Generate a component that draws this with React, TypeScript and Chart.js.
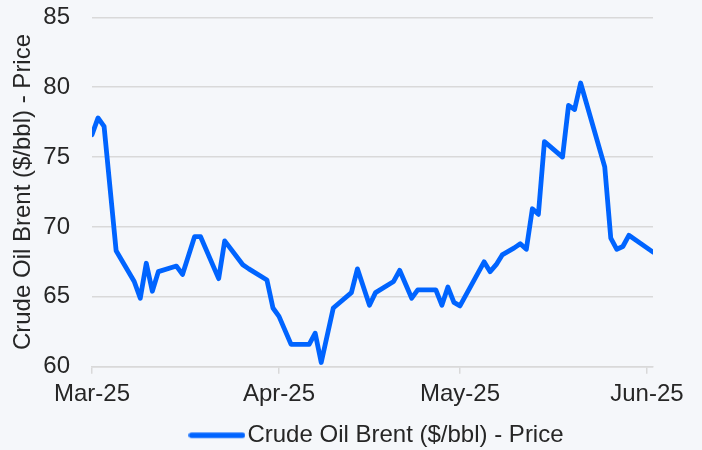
import React, { useEffect, useRef } from "react";
import { Chart, registerables } from "chart.js";

Chart.register(...registerables);

// Days counted from 1 Mar 2025
const dayIndex = [
  0, 1, 2, 4, 7, 8, 9, 10, 11, 14, 15, 17, 18, 21, 22, 25, 26, 29, 30, 31,
  33, 36, 37, 38, 40, 43, 44, 46, 47, 50, 51, 53, 54, 57, 58, 59, 60, 61,
  65, 66, 67, 68, 70, 71, 72, 73, 74, 75, 78, 79, 80, 81, 85, 86, 87, 88, 89, 93,
];
const brentPrice = [
  76.6, 77.8, 77.2, 68.3, 66.1, 64.9, 67.4, 65.4, 66.8, 67.2, 66.6, 69.3, 69.3,
  66.3, 69.0, 67.3, 67.0, 66.2, 64.2, 63.6, 61.6, 61.6, 62.4, 60.3, 64.2, 65.3,
  67.0, 64.4, 65.3, 66.1, 66.9, 64.9, 65.5, 65.5, 64.4, 65.7, 64.6, 64.35,
  67.5, 66.8, 67.3, 68.0, 68.5, 68.8, 68.4, 71.3, 70.9, 76.1, 75.0, 78.7,
  78.4, 80.3, 74.3, 69.2, 68.4, 68.6, 69.4, 68.2,
];
const monthTickDays = [0, 31, 61, 92];
const monthTickLabels = ["Mar-25", "Apr-25", "May-25", "Jun-25"];
const seriesName = "Crude Oil Brent ($/bbl) - Price";
const yAxisTitle = "Crude Oil Brent ($/bbl) - Price";

const BLUE = "#0064ff";
const GRID = "#d9d9d9";
const TEXT = "#262626";
const FONT = "'Liberation Sans', Arial, Helvetica, sans-serif";

function makeLegendLine(): HTMLCanvasElement {
  const c = document.createElement("canvas");
  c.width = 57;
  c.height = 8;
  const ctx = c.getContext("2d")!;
  ctx.strokeStyle = BLUE;
  ctx.lineWidth = 5.5;
  ctx.lineCap = "round";
  ctx.beginPath();
  ctx.moveTo(3, 4);
  ctx.lineTo(54, 4);
  ctx.stroke();
  return c;
}

const legendShift = {
  id: "legendShift",
  afterLayout(chart: any) {
    if (chart.legend) {
      chart.legend.left += 8.5;
      chart.legend.right += 8.5;
    }
  },
};

export default function App() {
  const ref = useRef<HTMLCanvasElement | null>(null);

  useEffect(() => {
    if (!ref.current) return;
    const lineImg = makeLegendLine();
    const chart = new Chart(ref.current, {
      type: "line",
      data: {
        datasets: [
          {
            label: seriesName,
            data: dayIndex.map((d, i) => ({ x: d, y: brentPrice[i] })),
            borderColor: BLUE,
            backgroundColor: BLUE,
            borderWidth: 4.8,
            borderJoinStyle: "round",
            borderCapStyle: "round",
            pointRadius: 0,
            tension: 0,
          },
        ],
      },
      plugins: [legendShift],
      options: {
        responsive: false,
        animation: false,
        layout: { padding: { top: 0, right: 49, bottom: -7.3, left: 0 } },
        scales: {
          x: {
            type: "linear",
            min: 0,
            max: 93,
            afterBuildTicks: (scale: any) => {
              scale.ticks = monthTickDays.map((v) => ({ value: v }));
            },
            ticks: {
              autoSkip: false,
              maxRotation: 0,
              padding: 6,
              color: TEXT,
              font: { family: FONT, size: 24 },
              callback: (v: any) => {
                const i = monthTickDays.indexOf(Number(v));
                return i >= 0 ? monthTickLabels[i] : null;
              },
            },
            grid: {
              drawOnChartArea: false,
              drawTicks: true,
              tickLength: 7,
              color: GRID,
              lineWidth: 1.5,
            },
            border: { display: true, color: GRID, width: 1.5 },
          },
          y: {
            min: 60,
            max: 85,
            afterFit: (scale: any) => {
              scale.width = 92;
              scale.paddingTop = 17.3;
              scale.paddingBottom = 0;
            },
            ticks: {
              stepSize: 5,
              padding: 22,
              color: TEXT,
              font: { family: FONT, size: 24 },
            },
            grid: { color: GRID, lineWidth: 1.5, drawTicks: false },
            border: { display: false },
            title: {
              display: true,
              text: yAxisTitle,
              color: TEXT,
              font: { family: FONT, size: 24 },
              padding: { top: 9, bottom: 6 },
            },
          },
        },
        plugins: {
          legend: {
            display: true,
            position: "bottom",
            fullSize: false,
            labels: {
              color: TEXT,
              font: { family: FONT, size: 24 },
              usePointStyle: true,
              pointStyleWidth: 37,
              boxHeight: 8,
              padding: 8.8,
              generateLabels: (c: any) =>
                (Chart.defaults.plugins.legend.labels as any)
                  .generateLabels(c)
                  .map((l: any) => ({ ...l, lineWidth: 0, pointStyle: lineImg })),
            },
          },
          tooltip: { enabled: false },
        },
      },
    });
    return () => chart.destroy();
  }, []);

  return (
    <div
      style={{
        position: "absolute",
        left: 0,
        top: 0,
        width: 702,
        height: 450,
        background: "#f5f7fa",
      }}
    >
      <canvas ref={ref} width={702} height={450} />
    </div>
  );
}
